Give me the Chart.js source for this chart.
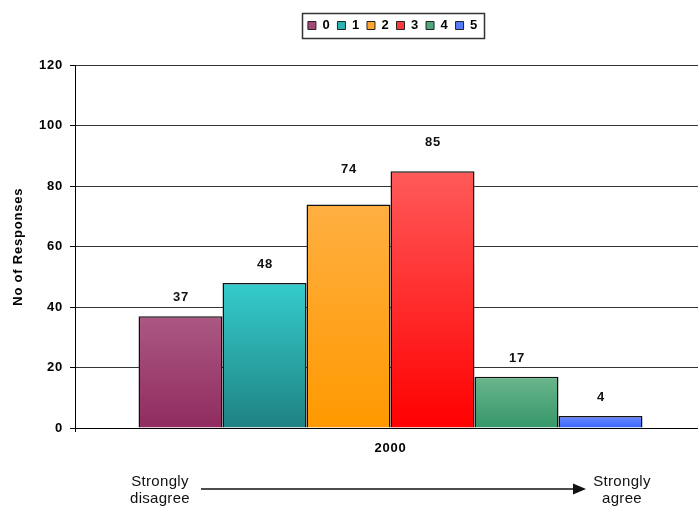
<!DOCTYPE html>
<html>
<head>
<meta charset="utf-8">
<title>No of Responses 2000</title>
<script src="https://cdn.jsdelivr.net/npm/chart.js@4/dist/chart.umd.min.js"></script>
<style>
  html, body { margin: 0; padding: 0; background: #fff; }
  #wrap { position: relative; width: 698px; height: 510px; overflow: hidden; font-family: Arial, "Liberation Sans", sans-serif; }
  #chart { position: absolute; left: 0; top: 0; }
  .scale-end { position: absolute; width: 90px; font-size: 15px; line-height: 17px; letter-spacing: 0.3px; text-align: center; color: #111; }
  #arrow { position: absolute; left: 0; top: 0; }
</style>
</head>
<body>
<div id="wrap">
  <canvas id="chart" width="706" height="510"></canvas>
  <div class="scale-end" style="left:115px; top:472px;">Strongly<br>disagree</div>
  <svg id="arrow" width="698" height="510">
    <line x1="201" y1="489" x2="574" y2="489" stroke="#111" stroke-width="1.4"/>
    <polygon points="573,483.5 586,489 573,494.5" fill="#111"/>
  </svg>
  <div class="scale-end" style="left:577px; top:472px;">Strongly<br>agree</div>
</div>
<script>
// Survey year shown on the category axis
const categories = ['2000'];
// Response scale 0 (strongly disagree) .. 5 (strongly agree)
const seriesLabels = ['0', '1', '2', '3', '4', '5'];
// Number of responses for each scale point
const seriesValues = [[37], [48], [74], [85], [17], [4]];
// Value axis ticks
const yTickValues = [0, 20, 40, 60, 80, 100, 120];

// Fill colours: lighter at the bar top, full colour at the base
const topColors  = ['#ab5883', '#35cccc', '#ffaf42', '#ff5a5a', '#6bb58c', '#6d8bff'];
const baseColors = ['#902c5f', '#1f8282', '#ff9900', '#ff0000', '#35986a', '#3a66ff'];
const swatchColors = ['#a04a76', '#2ab3b3', '#ffa530', '#ff3838', '#4fa87b', '#5579ff'];
// Extra lift for a few value labels so they sit clear of the gridlines
const labelLift = [0, 0, 16, 10, 0, 0];

const FONT = 'Arial, "Liberation Sans", sans-serif';
Chart.defaults.font.family = FONT;
Chart.defaults.color = '#000';

function barGradient(i) {
  return (ctx) => {
    const chart = ctx.chart;
    if (!chart.chartArea || ctx.type !== 'data') return baseColors[i];
    const y = chart.scales.y;
    const yTop = y.getPixelForValue(ctx.raw);
    const yBase = y.getPixelForValue(0);
    if (!isFinite(yTop) || yTop === yBase) return baseColors[i];
    const g = chart.ctx.createLinearGradient(0, yTop, 0, yBase);
    g.addColorStop(0, topColors[i]);
    g.addColorStop(1, baseColors[i]);
    return g;
  };
}

// Slightly spaced lettering for all canvas text
const spacedText = {
  id: 'spacedText',
  beforeUpdate(chart) { chart.ctx.letterSpacing = '0.8px'; },
  beforeDraw(chart) { chart.ctx.letterSpacing = '0.8px'; }
};

// Legend: extra space below it, shifted over the bars, framed with a box
const legendFrame = {
  id: 'legendFrame',
  beforeUpdate(chart, args, opts) {
    const lg = chart.legend;
    if (lg && !lg._gapWrapped) {
      const fit = lg.fit;
      lg.fit = function () { fit.call(this); this.height += opts.gapBelow; };
      lg._gapWrapped = true;
    }
  },
  afterLayout(chart, args, opts) {
    const lg = chart.legend;
    const dx = opts.centerX - (lg.left + lg.right) / 2;
    lg.left += dx;
    lg.right += dx;
  },
  afterDraw(chart, args, opts) {
    const lg = chart.legend;
    const pad = lg.options.labels.padding;
    const span = lg.lineWidths[0] - pad;
    const itemH = lg.legendHitBoxes[0].height;
    const cx = (lg.left + lg.right) / 2;
    const top = lg.top + pad - opts.marginY;
    const ctx = chart.ctx;
    ctx.save();
    ctx.strokeStyle = '#333';
    ctx.lineWidth = 1.5;
    ctx.strokeRect(Math.round(cx - span / 2 - opts.marginX) + 0.5, Math.round(top) + 0.5,
                   Math.round(span + 2 * opts.marginX), Math.round(itemH + 2 * opts.marginY));
    ctx.restore();
  }
};

// Value written above each bar
const valueLabels = {
  id: 'valueLabels',
  afterDatasetsDraw(chart) {
    const ctx = chart.ctx;
    ctx.save();
    ctx.font = 'bold 13px ' + FONT;
    ctx.fillStyle = '#111';
    ctx.textAlign = 'center';
    ctx.textBaseline = 'middle';
    chart.data.datasets.forEach((ds, i) => {
      chart.getDatasetMeta(i).data.forEach((bar, j) => {
        ctx.fillText(String(ds.data[j]), bar.x + 0.5, bar.y - 18.5 - labelLift[i]);
      });
    });
    ctx.restore();
  }
};

const datasets = seriesLabels.map((name, i) => ({
  label: name,
  data: seriesValues[i],
  backgroundColor: barGradient(i),
  borderColor: '#111',
  borderWidth: 1.5,
  borderSkipped: 'bottom',
  categoryPercentage: 0.7987,
  barPercentage: 1
}));

new Chart(document.getElementById('chart'), {
  type: 'bar',
  data: { labels: categories, datasets },
  options: {
    responsive: false,
    animation: false,
    devicePixelRatio: 1,
    layout: { padding: { top: 12, left: 0, right: 0, bottom: 0 } },
    plugins: {
      tooltip: { enabled: false },
      legend: {
        position: 'top',
        labels: {
          boxWidth: 8,
          boxHeight: 8,
          padding: 7,
          color: '#000',
          font: { size: 13, weight: 'bold' },
          generateLabels: () => seriesLabels.map((t, i) => ({
            text: t, fillStyle: swatchColors[i], strokeStyle: '#222', lineWidth: 1,
            datasetIndex: i, hidden: false, fontColor: '#000'
          }))
        }
      },
      legendFrame: { gapBelow: 23.4, centerX: 393, marginX: 6, marginY: 6 }
    },
    scales: {
      x: {
        grid: { display: true, drawOnChartArea: false, drawTicks: true, tickLength: 4, color: '#000' },
        border: { display: true, color: '#000', width: 1 },
        ticks: { padding: 9, color: '#000', font: { size: 13, weight: 'bold' } },
        afterFit(scale) { scale.height = 82; }
      },
      y: {
        min: yTickValues[0],
        max: yTickValues[yTickValues.length - 1],
        ticks: {
          stepSize: yTickValues[1] - yTickValues[0],
          padding: 7,
          color: '#000',
          font: { size: 13, weight: 'bold' }
        },
        grid: { color: '#333', lineWidth: 1, tickLength: 5, tickColor: '#000' },
        border: { display: true, color: '#000', width: 1 },
        title: {
          display: true,
          text: 'No of Responses',
          color: '#000',
          font: { size: 13, weight: 'bold' },
          padding: { top: 11, bottom: 0 }
        },
        afterFit(scale) { scale.width = 75; }
      }
    }
  },
  plugins: [spacedText, legendFrame, valueLabels]
});
</script>
</body>
</html>
